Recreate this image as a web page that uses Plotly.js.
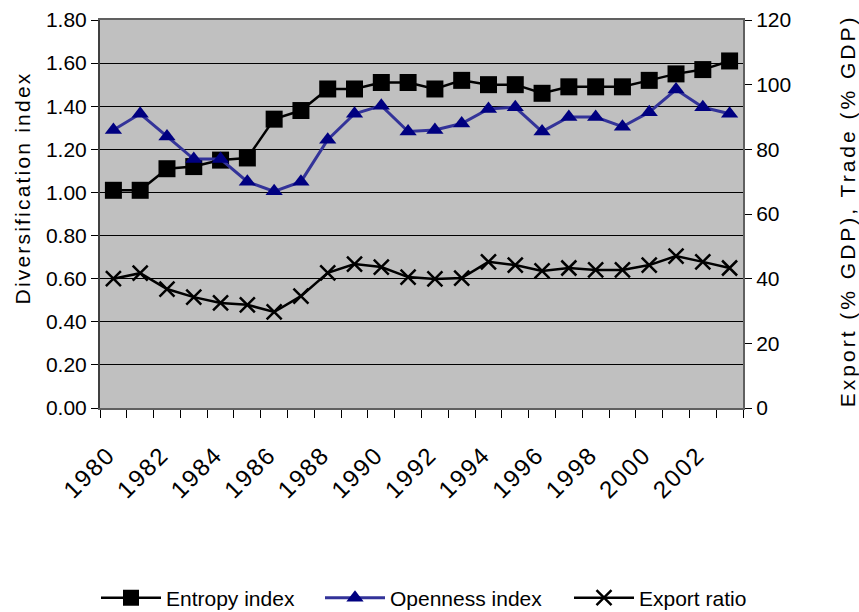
<!DOCTYPE html>
<html>
<head>
<meta charset="utf-8">
<script src="https://cdn.plot.ly/plotly-3.0.1.min.js"></script>
<style>
html,body{margin:0;padding:0;background:#fff;}
#chart{width:859px;height:612px;}
</style>
</head>
<body>
<div id="chart"></div>
<script>
// ---- data ----
var years = [1980,1981,1982,1983,1984,1985,1986,1987,1988,1989,1990,1991,
             1992,1993,1994,1995,1996,1997,1998,1999,2000,2001,2002,2003];
var entropyIndex = [1.01,1.01,1.11,1.12,1.15,1.16,1.34,1.38,1.48,1.48,1.51,1.51,
                    1.48,1.52,1.50,1.50,1.46,1.49,1.49,1.49,1.52,1.55,1.57,1.61];
var opennessIndex = [86,91,84,77,77,70,67,70,83,91,93.5,85.5,
                     86,88,92.5,93,85.5,90,90,87,91.5,98.5,93,91];
var exportRatio = [40,41.7,36.8,34.3,32.5,31.9,29.7,34.6,41.8,44.5,43.6,40.5,
                   39.9,40.2,45.2,44.2,42.4,43.3,42.7,42.7,44.2,47,45.2,43.3];
var xTickVals = [1980,1982,1984,1986,1988,1990,1992,1994,1996,1998,2000,2002];
var xTickText = ['1980','1982','1984','1986','1988','1990','1992','1994','1996','1998','2000','2002'];
var seriesNames = ['Entropy index','Openness index','Export ratio'];
var leftTitle = 'Diversification index';
var rightTitle = 'Export (% GDP), Trade (% GDP)';

var FONT = "'Liberation Sans', Arial, sans-serif";

var traces = [
  {x: years, y: entropyIndex, name: seriesNames[0], type: 'scatter', mode: 'lines+markers',
   yaxis: 'y', legend: 'legend', line: {color: '#000000', width: 2.5},
   marker: {symbol: 'square', size: 17, color: '#000000'}},
  {x: years, y: opennessIndex, name: seriesNames[1], type: 'scatter', mode: 'lines+markers',
   yaxis: 'y2', legend: 'legend2', line: {color: '#333399', width: 3},
   marker: {symbol: 'triangle-up', size: 15, color: '#000080'}},
  {x: years, y: exportRatio, name: seriesNames[2], type: 'scatter', mode: 'lines+markers',
   yaxis: 'y2', legend: 'legend3', line: {color: '#000000', width: 2.5},
   marker: {symbol: 'x-thin-open', size: 15, color: '#000000', line: {color: '#000000', width: 2.5}}}
];

function legendAt(px) {
  return {orientation: 'h', xref: 'container', yref: 'container',
          x: px / 859, xanchor: 'left', y: (612 - 598) / 612, yanchor: 'middle',
          font: {family: FONT, size: 21, color: '#000'}, itemwidth: 60,
          bgcolor: 'rgba(0,0,0,0)', borderwidth: 0};
}

var layout = {
  width: 859, height: 612,
  margin: {l: 100, r: 116, t: 20, b: 204, autoexpand: false},
  paper_bgcolor: '#ffffff',
  plot_bgcolor: '#c0c0c0',
  font: {family: FONT, size: 20, color: '#000'},
  showlegend: true,
  legend: legendAt(96),
  legend2: legendAt(320),
  legend3: legendAt(569),
  xaxis: {
    type: 'linear', range: [1979.5, 2003.5], fixedrange: true,
    tickmode: 'array', tickvals: xTickVals, ticktext: xTickText,
    tickangle: -45, ticks: '', ticklabelstandoff: 21, ticklabelshift: -5,
    tickfont: {family: FONT, size: 24, color: '#000'},
    showgrid: false, zeroline: false, automargin: false,
    showline: true, linecolor: '#606060', linewidth: 2, mirror: true,
    minor: {tickmode: 'linear', tick0: 1979.5, dtick: 1, ticks: 'outside', ticklen: 8,
            tickcolor: '#000', tickwidth: 1, showgrid: false}
  },
  yaxis: {
    range: [0, 1.8], dtick: 0.2, tick0: 0, tickformat: '.2f', automargin: false,
    ticks: 'outside', ticklen: 7, tickcolor: '#000', tickwidth: 1,
    tickfont: {family: FONT, size: 21, color: '#000'},
    showgrid: true, gridcolor: '#000000', gridwidth: 1, zeroline: false,
    showline: true, linecolor: '#404040', linewidth: 2
  },
  yaxis2: {
    overlaying: 'y', side: 'right', range: [0, 120], dtick: 20, tick0: 0, automargin: false,
    ticks: 'outside', ticklen: 7, tickcolor: '#000', tickwidth: 1,
    tickfont: {family: FONT, size: 21, color: '#000'},
    showgrid: false, zeroline: false,
    showline: true, linecolor: '#606060', linewidth: 2
  },
  annotations: [
    {text: leftTitle, xref: 'paper', yref: 'paper', x: -0.1213, y: 0.566,
     xanchor: 'center', yanchor: 'middle', textangle: -90, showarrow: false,
     font: {family: FONT, size: 21, color: '#000'}},
    {text: rightTitle, xref: 'paper', yref: 'paper', x: 1.163, y: 0.508,
     xanchor: 'center', yanchor: 'middle', textangle: -90, showarrow: false,
     font: {family: FONT, size: 21, color: '#000'}}
  ]
};

Plotly.newPlot('chart', traces, layout, {displayModeBar: false, staticPlot: true}).then(function(gd){
  var ann = gd.querySelectorAll('.annotation-text');
  if (ann[0]) ann[0].style.letterSpacing = '2.2px';
  if (ann[1]) ann[1].style.letterSpacing = '3px';
  var xt = gd.querySelectorAll('.xtick text');
  for (var i = 0; i < xt.length; i++) xt[i].style.letterSpacing = '2px';
});
</script>
</body>
</html>
